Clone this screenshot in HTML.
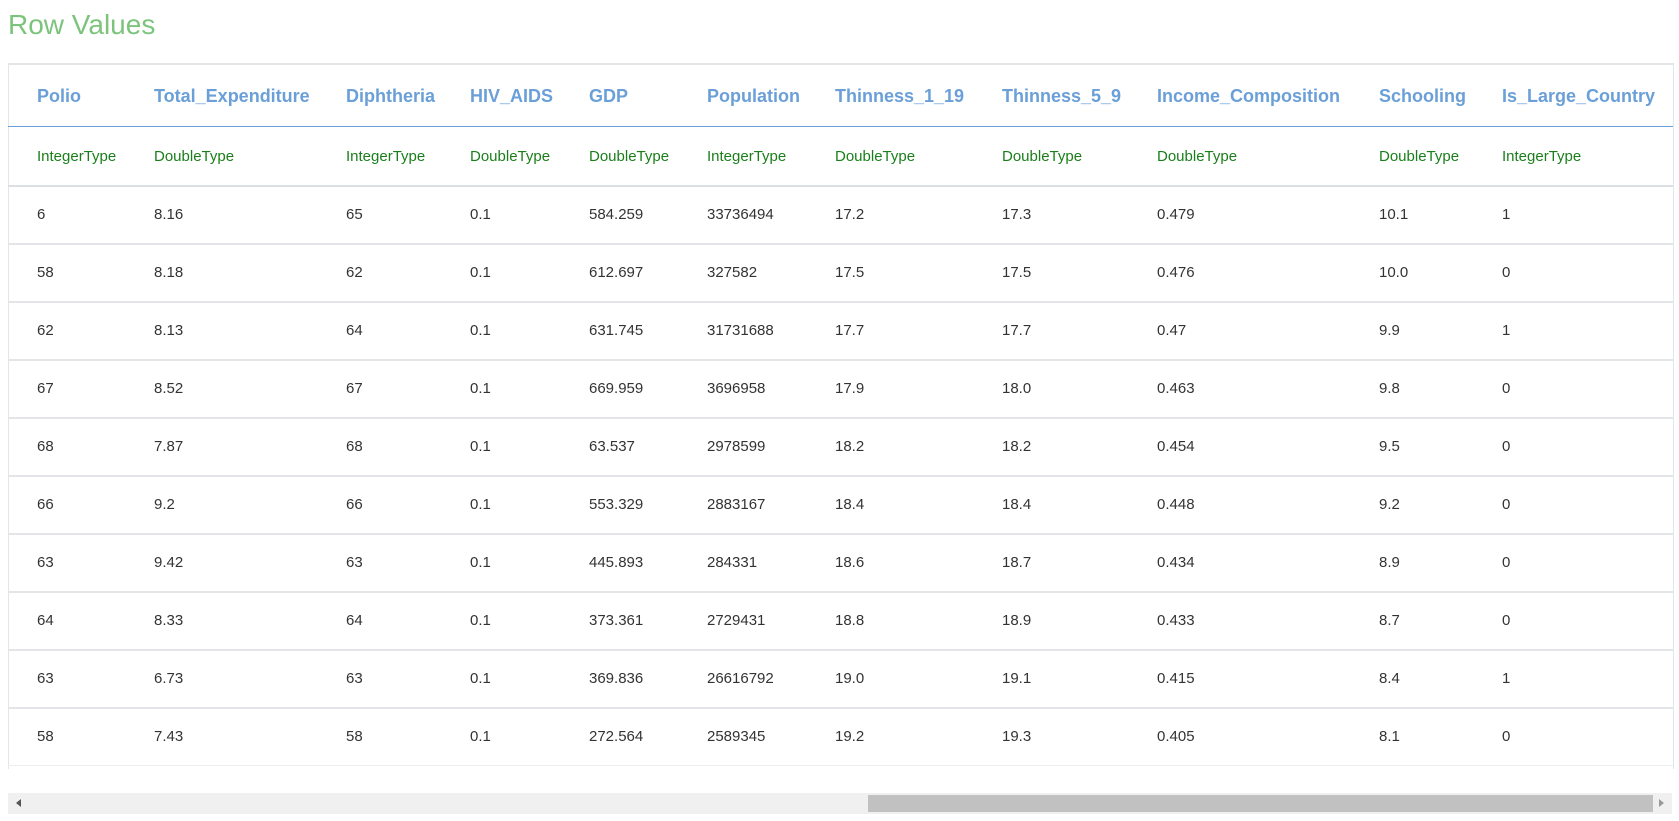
<!DOCTYPE html>
<html><head><meta charset="utf-8"><style>
body{margin:0;width:1679px;height:821px;background:#fff;font-family:"Liberation Sans",Arial,sans-serif;position:relative;overflow:hidden}
.t{position:absolute;white-space:nowrap}
#title{left:8px;top:9px;font-size:28px;color:#7cc47c}
#box{position:absolute;left:8px;top:63px;width:1664px;height:704px;border:1px solid #e3e5e8;border-bottom:none;border-top:2px solid #e3e5e8}
.hl{position:absolute;left:8px;width:1665px}
.h{font-size:18px;font-weight:bold;color:#6a9fd8}
.ty{font-size:15px;color:#1a7f1a}
.d{font-size:15px;color:#333}
</style></head><body>
<div id="title" class="t">Row Values</div>
<div id="box"></div>
<div class="hl" style="top:126px;height:1px;background:#6a9fd8"></div>
<div class="hl" style="top:185px;height:2px;background:#dcdfe3"></div>
<div id="rows"></div>
<div style="position:absolute;left:8px;top:793px;width:1664px;height:21px;background:#f0f0f0">
<div style="position:absolute;left:8px;top:6px;width:0;height:0;border-top:4px solid transparent;border-bottom:4px solid transparent;border-right:5px solid #555"></div>
<div style="position:absolute;left:860px;top:2px;width:785px;height:17px;background:#c1c1c1"></div>
<div style="position:absolute;right:8px;top:6px;width:0;height:0;border-top:4px solid transparent;border-bottom:4px solid transparent;border-left:5px solid #999"></div>
</div>
<script>
const cols=["Polio","Total_Expenditure","Diphtheria","HIV_AIDS","GDP","Population","Thinness_1_19","Thinness_5_9","Income_Composition","Schooling","Is_Large_Country"];
const types=["IntegerType","DoubleType","IntegerType","DoubleType","DoubleType","IntegerType","DoubleType","DoubleType","DoubleType","DoubleType","IntegerType"];
const rows=[
["6","8.16","65","0.1","584.259","33736494","17.2","17.3","0.479","10.1","1"],
["58","8.18","62","0.1","612.697","327582","17.5","17.5","0.476","10.0","0"],
["62","8.13","64","0.1","631.745","31731688","17.7","17.7","0.47","9.9","1"],
["67","8.52","67","0.1","669.959","3696958","17.9","18.0","0.463","9.8","0"],
["68","7.87","68","0.1","63.537","2978599","18.2","18.2","0.454","9.5","0"],
["66","9.2","66","0.1","553.329","2883167","18.4","18.4","0.448","9.2","0"],
["63","9.42","63","0.1","445.893","284331","18.6","18.7","0.434","8.9","0"],
["64","8.33","64","0.1","373.361","2729431","18.8","18.9","0.433","8.7","0"],
["63","6.73","63","0.1","369.836","26616792","19.0","19.1","0.415","8.4","1"],
["58","7.43","58","0.1","272.564","2589345","19.2","19.3","0.405","8.1","0"]];
const xs=[37,154,346,470,589,707,835,1002,1157,1379,1502];
function mk(txt,cls,x,y){const e=document.createElement('div');e.className='t '+cls;e.textContent=txt;e.style.left=x+'px';e.style.top=y+'px';document.body.appendChild(e);return e;}
cols.forEach((c,i)=>{const e=mk(c,'h',xs[i],86);


const t=mk(types[i],'ty',xs[i],148);

});
rows.forEach((r,j)=>{const y0=187+j*58;
r.forEach((v,i)=>{const e=mk(v,'d',xs[i],y0+19);

});
const l=document.createElement('div');l.className='hl';l.style.top=(y0+56)+'px';l.style.height=(j==9?1:2)+'px';l.style.background=j==9?'#eceef0':'#e3e5e8';document.body.appendChild(l);

});
</script>
</body></html>
